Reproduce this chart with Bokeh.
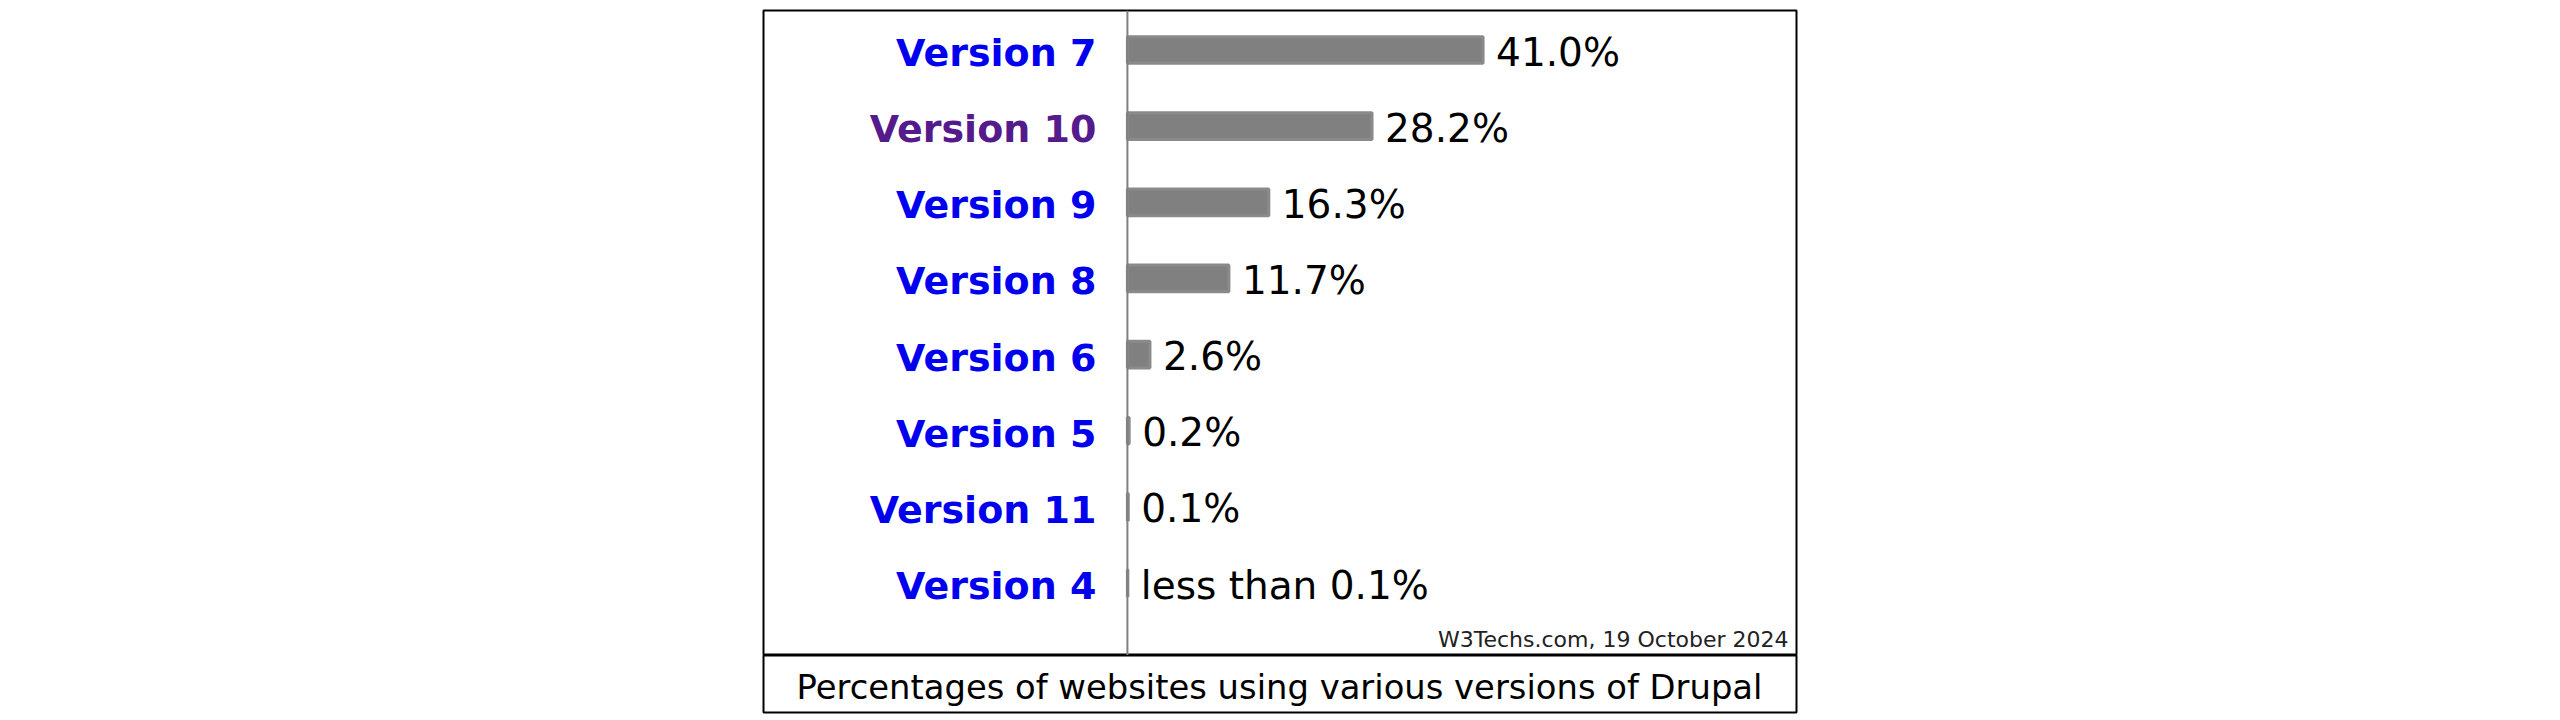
from bokeh.plotting import figure
from bokeh.models import ColumnDataSource, Range1d, Span, Label
from bokeh.layouts import column
from bokeh.core.properties import value
from bokeh.embed import file_html
from bokeh.resources import INLINE

# ---- data ----
versions = ["Version 7", "Version 10", "Version 9", "Version 8",
            "Version 6", "Version 5", "Version 11", "Version 4"]
shares = [41.0, 28.2, 16.3, 11.7, 2.6, 0.2, 0.1, 0.05]
share_labels = ["41.0%", "28.2%", "16.3%", "11.7%", "2.6%", "0.2%", "0.1%",
                "less than 0.1%"]
visited = ["Version 10"]
source_note = "W3Techs.com, 19 October 2024"
caption_text = "Percentages of websites using various versions of Drupal"

FONT = "DejaVu Sans"

src = ColumnDataSource(dict(
    y=list(range(len(versions))),
    version=versions,
    share=shares,
    share_label=share_labels,
    color=["#551A8B" if v in visited else "#0000EE" for v in versions],
))

p = figure(width=2552, height=655, output_backend="svg", toolbar_location=None,
           x_range=Range1d(-41.95, 77.13), y_range=Range1d(7.952, -0.519),
           x_axis_location=None, y_axis_location=None,
           min_border_left=763, min_border_right=755,
           min_border_top=10, min_border_bottom=0,
           outline_line_color="black", outline_line_width=2,
           background_fill_color="white", border_fill_color="white")
p.frame_width = 1033
p.frame_height = 645
p.xgrid.visible = False
p.ygrid.visible = False

p.hbar(y="y", left=0, right="share", height=0.35, source=src,
       fill_color="#808080", line_color="#8a8a8a", line_width=3)

p.add_layout(Span(location=0, dimension="height", line_color="#808080",
                  line_width=2))

p.text(x=0, y="y", text="version", source=src, text_color="color",
       text_font=value(FONT), text_font_style="bold", text_font_size="38px",
       text_align="right", text_baseline="middle", x_offset=-31, y_offset=3)

p.text(x="share", y="y", text="share_label", source=src, text_color="black",
       text_font=value(FONT), text_font_size="39px",
       text_align="left", text_baseline="middle", x_offset=13, y_offset=2)

p.add_layout(Label(x=1025, y=16, x_units="screen", y_units="screen",
                   text=source_note, text_font=FONT,
                   text_font_size="22px", text_color="#222222",
                   text_align="right", text_baseline="middle"))

cap = figure(width=2552, height=59, output_backend="svg", toolbar_location=None,
             x_range=Range1d(0, 1), y_range=Range1d(0, 1),
             x_axis_location=None, y_axis_location=None,
             min_border_left=763, min_border_right=756,
             min_border_top=0, min_border_bottom=2,
             outline_line_color="black", outline_line_width=2,
             background_fill_color="white", border_fill_color="white")
cap.frame_width = 1033
cap.frame_height = 57
cap.xgrid.visible = False
cap.ygrid.visible = False
cap.add_layout(Label(x=516, y=25, x_units="screen", y_units="screen",
                     text=caption_text, text_font=FONT,
                     text_font_size="33.8px", text_color="black",
                     text_align="center", text_baseline="middle"))

layout = column(p, cap, spacing=0)
open("out.html", "w").write(file_html(layout, INLINE))
